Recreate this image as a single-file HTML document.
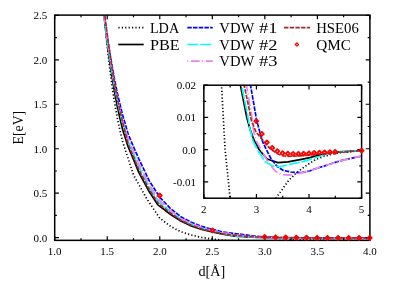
<!DOCTYPE html><html><head><meta charset="utf-8"><style>html,body{margin:0;padding:0;background:#fff}svg{display:block;will-change:transform}text{font-family:"Liberation Serif",serif;fill:#000}</style></head><body>
<svg width="396" height="284" viewBox="0 0 396 284">
<defs><clipPath id="cm"><rect x="54.7" y="15.1" width="318.2" height="225.25"/></clipPath><clipPath id="ci"><rect x="203.85" y="85.2" width="160.75000000000003" height="112.99999999999999"/></clipPath></defs>
<rect width="396" height="284" fill="#fff"/>
<g clip-path="url(#cm)">
<polyline points="96.7,-105.5 99.4,-55.7 102.0,-14.9 104.6,18.6 107.2,46.4 109.9,69.6 112.5,89.2 115.1,105.8 117.7,120.0 120.4,132.3 123.0,142.9 128.2,158.7 133.5,175.0 146.6,198.5 159.6,218.0 170.3,226.2 180.8,231.7 191.3,235.0 201.8,237.5 212.3,239.0 222.8,240.2 224.9,240.3 227.0,240.4 229.1,240.5 231.2,240.6 233.3,240.7 235.4,240.8 237.5,240.9 239.6,241.0 241.7,241.2 243.8,241.3 245.9,241.3 248.0,241.3 250.1,241.3 252.2,241.3 254.3,241.3 256.4,241.3 258.5,241.3 260.6,241.3 262.7,241.3 264.8,241.3 266.9,241.2 269.0,241.0 271.1,240.9 273.2,240.8 275.3,240.7 277.4,240.6 279.5,240.5 281.6,240.4 283.7,240.3 285.8,240.2 287.9,240.0 290.0,239.9 292.2,239.7 294.3,239.6 296.4,239.2 298.5,239.1 300.6,239.1 302.7,239.1 304.8,239.0 306.9,239.0 309.0,238.9 311.1,238.9 313.2,238.9 315.3,238.8 317.4,238.8 319.5,238.7 321.6,238.7 323.7,238.7 325.8,238.6 327.9,238.6 330.0,238.5 332.1,238.5 334.2,238.5 336.3,238.5 338.4,238.4 340.5,238.4 342.6,238.4 344.7,238.3 346.8,238.3 348.9,238.3 351.0,238.3 353.1,238.3 355.2,238.2 357.3,238.2 359.4,238.2 361.5,238.2 363.6,238.1 365.7,238.1 367.8,238.1 369.9,238.1" fill="none" stroke="#000" stroke-width="1.7" stroke-dasharray="1.2,2.2" stroke-linejoin="round"/>
<polyline points="96.3,-71.1 99.0,-37.7 101.6,-8.4 104.2,17.2 106.8,39.7 109.5,59.5 112.1,77.0 114.7,92.5 117.3,106.3 120.0,118.5 122.6,129.4 128.2,146.9 133.5,159.3 138.8,172.4 149.3,191.8 157.6,204.6 170.3,214.2 180.8,221.0 191.3,226.0 201.8,229.5 212.3,232.0 222.8,234.2 233.3,236.0 235.4,236.1 237.5,236.3 239.6,236.4 241.7,236.5 243.8,236.7 245.9,236.8 248.0,236.9 250.1,237.0 252.2,237.1 254.3,237.2 256.4,237.3 258.5,237.4 260.6,237.4 262.7,237.5 264.8,237.6 266.9,237.6 269.0,237.7 271.1,237.7 273.2,237.7 275.3,237.8 277.4,237.8 279.5,237.9 281.6,237.9 283.7,237.9 285.8,238.0 287.9,238.0 290.0,238.0 292.2,238.0 294.3,238.0 296.4,238.0 298.5,238.0 300.6,238.0 302.7,238.0 304.8,238.0 306.9,238.1 309.0,238.1 311.1,238.1 313.2,238.1 315.3,238.0 317.4,238.0 319.5,238.0 321.6,238.0 323.7,238.0 325.8,238.0 327.9,238.0 330.0,238.0 332.1,238.0 334.2,238.0 336.3,238.0 338.4,238.0 340.5,238.0 342.6,238.0 344.7,238.0 346.8,238.0 348.9,238.0 351.0,238.0 353.1,238.0 355.2,238.0 357.3,238.0 359.4,238.0 361.5,237.9 363.6,237.9 365.7,237.9 367.8,237.9 369.9,237.9" fill="none" stroke="#000" stroke-width="1.7" stroke-linejoin="round"/>
<polyline points="96.1,-54.5 98.8,-29.4 101.4,-6.6 104.0,14.0 106.6,32.7 109.3,49.7 111.9,65.1 114.5,79.2 117.1,92.0 119.8,103.6 122.4,114.3 128.2,134.3 133.5,146.8 138.8,158.8 149.3,180.9 159.8,197.3 170.3,208.3 180.8,216.8 191.3,222.2 201.8,226.4 212.3,229.4 222.8,232.0 254.3,236.0 256.4,236.2 258.5,236.4 260.6,236.5 262.7,236.7 264.8,236.9 266.9,237.0 269.0,237.1 271.1,237.2 273.2,237.3 275.3,237.4 277.4,237.5 279.5,237.5 281.6,237.6 283.7,237.7 285.8,237.7 287.9,237.8 290.0,237.8 292.2,237.9 294.3,238.0 296.4,238.0 298.5,238.0 300.6,238.1 302.7,238.1 304.8,238.1 306.9,238.2 309.0,238.2 311.1,238.2 313.2,238.2 315.3,238.2 317.4,238.3 319.5,238.3 321.6,238.3 323.7,238.3 325.8,238.3 327.9,238.3 330.0,238.3 332.1,238.3 334.2,238.3 336.3,238.3 338.4,238.3 340.5,238.3 342.6,238.3 344.7,238.3 346.8,238.3 348.9,238.3 351.0,238.3 353.1,238.3 355.2,238.3 357.3,238.3 359.4,238.3 361.5,238.3 363.6,238.3 365.7,238.3 367.8,238.3 369.9,238.3" fill="none" stroke="#0000ff" stroke-width="1.7" stroke-dasharray="4.5,1.2" stroke-linejoin="round"/>
<polyline points="96.2,-64.1 98.9,-34.2 101.5,-7.7 104.1,15.9 106.7,36.8 109.4,55.4 112.0,72.0 114.6,86.9 117.3,100.3 119.9,112.3 122.5,123.1 128.2,141.6 133.5,154.1 138.8,166.7 149.3,187.2 158.5,201.5 170.3,211.7 180.8,219.2 191.3,224.4 201.8,228.2 212.3,230.9 222.8,233.3 235.4,235.9 237.5,236.1 239.6,236.2 241.7,236.4 243.8,236.5 245.9,236.7 248.0,236.8 250.1,237.0 252.2,237.1 254.3,237.3 256.4,237.4 258.5,237.5 260.6,237.5 262.7,237.6 264.8,237.6 266.9,237.7 269.0,237.8 271.1,237.8 273.2,237.8 275.3,237.9 277.4,237.9 279.5,238.0 281.6,238.0 283.7,238.0 285.8,238.1 287.9,238.1 290.0,238.1 292.2,238.1 294.3,238.1 296.4,238.1 298.5,238.2 300.6,238.2 302.7,238.2 304.8,238.2 306.9,238.2 309.0,238.2 311.1,238.2 313.2,238.2 315.3,238.2 317.4,238.2 319.5,238.1 321.6,238.1 323.7,238.1 325.8,238.1 327.9,238.1 330.0,238.1 332.1,238.1 334.2,238.1 336.3,238.1 338.4,238.1 340.5,238.1 342.6,238.1 344.7,238.1 346.8,238.1 348.9,238.1 351.0,238.0 353.1,238.0 355.2,238.0 357.3,238.0 359.4,238.0 361.5,238.0 363.6,238.0 365.7,238.0 367.8,238.0 369.9,238.0" fill="none" stroke="#00ffff" stroke-width="1.7" stroke-dasharray="10.9,2" stroke-linejoin="round"/>
<polyline points="96.2,-60.7 98.8,-32.4 101.5,-7.3 104.1,15.2 106.7,35.3 109.3,53.3 112.0,69.5 114.6,84.1 117.2,97.3 119.8,109.1 122.5,119.9 128.2,139.0 133.5,151.4 138.8,163.8 149.3,184.9 159.0,200.0 170.3,210.5 180.8,218.4 191.3,223.6 201.8,227.5 212.3,230.4 222.8,232.8 245.9,236.0 248.0,236.2 250.1,236.3 252.2,236.5 254.3,236.7 256.4,236.9 258.5,237.1 260.6,237.3 262.7,237.4 264.8,237.5 266.9,237.5 269.0,237.6 271.1,237.6 273.2,237.7 275.3,237.7 277.4,237.8 279.5,237.8 281.6,237.9 283.7,237.9 285.8,238.0 287.9,238.0 290.0,238.1 292.2,238.1 294.3,238.2 296.4,238.2 298.5,238.2 300.6,238.3 302.7,238.3 304.8,238.3 306.9,238.3 309.0,238.3 311.1,238.4 313.2,238.4 315.3,238.4 317.4,238.4 319.5,238.4 321.6,238.4 323.7,238.4 325.8,238.4 327.9,238.4 330.0,238.4 332.1,238.4 334.2,238.4 336.3,238.4 338.4,238.4 340.5,238.4 342.6,238.4 344.7,238.4 346.8,238.4 348.9,238.4 351.0,238.4 353.1,238.3 355.2,238.3 357.3,238.3 359.4,238.3 361.5,238.3 363.6,238.3 365.7,238.3 367.8,238.3 369.9,238.3" fill="none" stroke="#ee82ee" stroke-width="1.7" stroke-dasharray="1,2.5,8.8,2.5" stroke-linejoin="round"/>
<polyline points="96.3,-74.9 99.0,-43.3 101.6,-15.3 104.2,9.4 106.8,31.5 109.5,51.1 112.1,68.6 114.7,84.2 117.3,98.2 120.0,110.7 122.6,122.0 128.2,144.4 133.5,156.8 138.8,169.7 149.3,189.6 158.0,203.1 170.3,213.0 180.8,220.2 191.3,225.2 201.8,228.9 212.3,231.5 222.8,233.8 241.7,236.0 243.8,236.2 245.9,236.3 248.0,236.4 250.1,236.6 252.2,236.7 254.3,236.9 256.4,237.0 258.5,237.0 260.6,237.1 262.7,237.2 264.8,237.2 266.9,237.3 269.0,237.3 271.1,237.3 273.2,237.4 275.3,237.4 277.4,237.4 279.5,237.5 281.6,237.5 283.7,237.5 285.8,237.6 287.9,237.6 290.0,237.6 292.2,237.7 294.3,237.7 296.4,237.7 298.5,237.7 300.6,237.8 302.7,237.8 304.8,237.8 306.9,237.8 309.0,237.8 311.1,237.8 313.2,237.8 315.3,237.9 317.4,237.9 319.5,237.9 321.6,237.9 323.7,237.9 325.8,237.9 327.9,237.9 330.0,237.9 332.1,237.9 334.2,237.9 336.3,237.9 338.4,237.9 340.5,237.9 342.6,237.9 344.7,237.9 346.8,237.9 348.9,237.9 351.0,237.9 353.1,237.9 355.2,237.9 357.3,237.9 359.4,237.9 361.5,237.9 363.6,237.9 365.7,237.9 367.8,237.9 369.9,237.8" fill="none" stroke="#a52a2a" stroke-width="1.7" stroke-dasharray="4.4,1.3" stroke-linejoin="round"/>
</g>
<rect x="54.7" y="15.1" width="315.2" height="225.25" fill="none" stroke="#000" stroke-width="1.5"/>
<path d="M54.70 240.35v-4.2M54.70 15.1v4.2M80.97 240.35v-2.2M80.97 15.1v2.2M107.23 240.35v-4.2M107.23 15.1v4.2M133.50 240.35v-2.2M133.50 15.1v2.2M159.77 240.35v-4.2M159.77 15.1v4.2M186.03 240.35v-2.2M186.03 15.1v2.2M212.30 240.35v-4.2M212.30 15.1v4.2M238.57 240.35v-2.2M238.57 15.1v2.2M264.83 240.35v-4.2M264.83 15.1v4.2M291.10 240.35v-2.2M291.10 15.1v2.2M317.37 240.35v-4.2M317.37 15.1v4.2M343.63 240.35v-2.2M343.63 15.1v2.2M369.90 240.35v-4.2M369.90 15.1v4.2M54.7 237.70h4.2M369.9 237.70h-4.2M54.7 215.46h2.2M369.9 215.46h-2.2M54.7 193.22h4.2M369.9 193.22h-4.2M54.7 170.99h2.2M369.9 170.99h-2.2M54.7 148.75h4.2M369.9 148.75h-4.2M54.7 126.51h2.2M369.9 126.51h-2.2M54.7 104.27h4.2M369.9 104.27h-4.2M54.7 82.04h2.2M369.9 82.04h-2.2M54.7 59.80h4.2M369.9 59.80h-4.2M54.7 37.56h2.2M369.9 37.56h-2.2M54.7 15.32h4.2M369.9 15.32h-4.2" stroke="#000" stroke-width="1.2" fill="none"/>
<path d="M159.7 193.5L161.7 195.5L159.7 197.5L157.7 195.5Z" fill="none" stroke="#ff0000" stroke-width="1.8" stroke-linejoin="round"/>
<path d="M212.4 228.4L214.4 230.4L212.4 232.4L210.4 230.4Z" fill="none" stroke="#ff0000" stroke-width="1.8" stroke-linejoin="round"/>
<path d="M264.6 234.9L266.6 236.9L264.6 238.9L262.6 236.9Z" fill="none" stroke="#ff0000" stroke-width="1.8" stroke-linejoin="round"/>
<path d="M275.6 235.3L277.6 237.3L275.6 239.3L273.6 237.3Z" fill="none" stroke="#ff0000" stroke-width="1.8" stroke-linejoin="round"/>
<path d="M285.7 235.5L287.7 237.5L285.7 239.5L283.7 237.5Z" fill="none" stroke="#ff0000" stroke-width="1.8" stroke-linejoin="round"/>
<path d="M296.3 235.6L298.3 237.6L296.3 239.6L294.3 237.6Z" fill="none" stroke="#ff0000" stroke-width="1.8" stroke-linejoin="round"/>
<path d="M306.5 235.7L308.5 237.7L306.5 239.7L304.5 237.7Z" fill="none" stroke="#ff0000" stroke-width="1.8" stroke-linejoin="round"/>
<path d="M317.1 235.8L319.1 237.8L317.1 239.8L315.1 237.8Z" fill="none" stroke="#ff0000" stroke-width="1.8" stroke-linejoin="round"/>
<path d="M327.5 235.8L329.5 237.8L327.5 239.8L325.5 237.8Z" fill="none" stroke="#ff0000" stroke-width="1.8" stroke-linejoin="round"/>
<path d="M338.1 235.8L340.1 237.8L338.1 239.8L336.1 237.8Z" fill="none" stroke="#ff0000" stroke-width="1.8" stroke-linejoin="round"/>
<path d="M348.7 235.8L350.7 237.8L348.7 239.8L346.7 237.8Z" fill="none" stroke="#ff0000" stroke-width="1.8" stroke-linejoin="round"/>
<path d="M359.1 235.8L361.1 237.8L359.1 239.8L357.1 237.8Z" fill="none" stroke="#ff0000" stroke-width="1.8" stroke-linejoin="round"/>
<path d="M369.7 235.8L371.7 237.8L369.7 239.8L367.7 237.8Z" fill="none" stroke="#ff0000" stroke-width="1.8" stroke-linejoin="round"/>
<text x="54.7" y="255" font-size="11" text-anchor="middle">1.0</text>
<text x="107.2" y="255" font-size="11" text-anchor="middle">1.5</text>
<text x="159.8" y="255" font-size="11" text-anchor="middle">2.0</text>
<text x="212.3" y="255" font-size="11" text-anchor="middle">2.5</text>
<text x="264.8" y="255" font-size="11" text-anchor="middle">3.0</text>
<text x="317.4" y="255" font-size="11" text-anchor="middle">3.5</text>
<text x="369.9" y="255" font-size="11" text-anchor="middle">4.0</text>
<text x="47.2" y="241.6" font-size="11" text-anchor="end">0.0</text>
<text x="47.2" y="197.1" font-size="11" text-anchor="end">0.5</text>
<text x="47.2" y="152.7" font-size="11" text-anchor="end">1.0</text>
<text x="47.2" y="108.2" font-size="11" text-anchor="end">1.5</text>
<text x="47.2" y="63.7" font-size="11" text-anchor="end">2.0</text>
<text x="47.2" y="19.2" font-size="11" text-anchor="end">2.5</text>
<text x="198.4" y="276" font-size="14.8" textLength="26.8" lengthAdjust="spacingAndGlyphs">d[Å]</text>
<text transform="translate(22.9,144.4) rotate(-90)" font-size="14.8" textLength="33.6" lengthAdjust="spacingAndGlyphs">E[eV]</text>
<rect x="203.85" y="85.2" width="157.75000000000003" height="112.99999999999999" fill="#fff"/>
<g clip-path="url(#ci)">
<polyline points="219.5,50.0 221.5,85.2 225.1,150.0 228.3,180.0 230.1,198.2 231.0,210.0" fill="none" stroke="#000" stroke-width="1.7" stroke-dasharray="1.2,2.2" stroke-linejoin="round"/>
<polyline points="272.0,204.0 276.6,197.2 282.3,189.4 288.6,180.5 295.0,174.2 301.3,169.1 307.7,164.6 315.4,159.7 324.3,156.2 333.1,154.0 340.0,152.7 361.6,150.6" fill="none" stroke="#000" stroke-width="1.7" stroke-dasharray="1.2,2.2" stroke-linejoin="round"/>
<polyline points="233.4,50.0 240.4,85.2 244.9,108.0 246.9,118.0 250.3,130.0 254.0,140.0 259.4,150.0 267.1,159.0 277.9,162.6 288.0,161.8 300.0,159.6 310.0,157.6 315.4,156.0 328.0,153.7 335.0,152.2 361.6,150.6" fill="none" stroke="#000" stroke-width="1.7" stroke-linejoin="round"/>
<polyline points="245.8,50.0 250.5,85.2 256.6,120.0 259.8,132.0 262.7,141.9 266.0,148.9 271.2,159.0 277.3,166.6 283.0,170.3 290.6,172.0 297.0,172.6 302.7,172.4 310.0,170.8 315.4,168.8 328.0,164.8 340.0,160.8 361.6,156.1" fill="none" stroke="#0000ff" stroke-width="1.7" stroke-dasharray="4.5,1.2" stroke-linejoin="round"/>
<polyline points="235.5,50.0 241.5,85.2 246.2,108.0 248.0,117.0 249.9,128.7 253.2,141.4 258.2,151.0 265.0,161.6 272.6,166.0 280.5,166.6 290.6,164.1 302.7,161.6 315.4,157.8 324.3,155.0 335.0,152.0 361.6,150.6" fill="none" stroke="#00ffff" stroke-width="1.7" stroke-dasharray="10.9,2" stroke-linejoin="round"/>
<polyline points="240.4,50.0 246.5,85.2 250.4,108.0 252.3,120.0 253.4,130.0 255.7,140.0 261.4,150.2 268.5,162.8 275.4,171.3 281.7,174.6 288.0,175.2 293.0,174.8 300.0,173.2 302.7,172.4 310.0,170.8 315.4,168.8 328.0,164.8 340.0,160.8 361.6,156.1" fill="none" stroke="#ee82ee" stroke-width="1.7" stroke-dasharray="1,2.5,8.8,2.5" stroke-linejoin="round"/>
<polyline points="238.0,50.0 244.1,85.2 249.0,108.0 251.2,120.0 256.0,132.0 263.7,141.3 268.0,146.5 273.0,150.8 278.0,154.0 283.5,155.9 288.5,156.3 300.0,155.9 315.0,154.5 330.0,153.0 340.0,152.2 361.6,150.6" fill="none" stroke="#a52a2a" stroke-width="1.7" stroke-dasharray="4.4,1.3" stroke-linejoin="round"/>
</g>
<rect x="203.85" y="85.2" width="157.75000000000003" height="112.99999999999999" fill="none" stroke="#000" stroke-width="1.5"/>
<path d="M203.85 198.2v-4.3M203.85 85.2v4.3M230.14 198.2v-2.35M230.14 85.2v2.35M256.43 198.2v-4.3M256.43 85.2v4.3M282.73 198.2v-2.35M282.73 85.2v2.35M309.02 198.2v-4.3M309.02 85.2v4.3M335.31 198.2v-2.35M335.31 85.2v2.35M361.60 198.2v-4.3M361.60 85.2v4.3M203.85 198.01h2.35M361.6 198.01h-2.35M203.85 181.90h4.3M361.6 181.90h-4.3M203.85 165.78h2.35M361.6 165.78h-2.35M203.85 149.67h4.3M361.6 149.67h-4.3M203.85 133.55h2.35M361.6 133.55h-2.35M203.85 117.44h4.3M361.6 117.44h-4.3M203.85 101.32h2.35M361.6 101.32h-2.35M203.85 85.21h4.3M361.6 85.21h-4.3" stroke="#000" stroke-width="1.2" fill="none"/>
<path d="M256.3 119.1L258.3 121.1L256.3 123.1L254.3 121.1Z" fill="none" stroke="#ff0000" stroke-width="1.8" stroke-linejoin="round"/>
<path d="M261.8 131.8L263.8 133.8L261.8 135.8L259.8 133.8Z" fill="none" stroke="#ff0000" stroke-width="1.8" stroke-linejoin="round"/>
<path d="M266.9 140.4L268.9 142.4L266.9 144.4L264.9 142.4Z" fill="none" stroke="#ff0000" stroke-width="1.8" stroke-linejoin="round"/>
<path d="M272.2 145.8L274.2 147.8L272.2 149.8L270.2 147.8Z" fill="none" stroke="#ff0000" stroke-width="1.8" stroke-linejoin="round"/>
<path d="M277.3 149.2L279.3 151.2L277.3 153.2L275.3 151.2Z" fill="none" stroke="#ff0000" stroke-width="1.8" stroke-linejoin="round"/>
<path d="M282.6 151.1L284.6 153.1L282.6 155.1L280.6 153.1Z" fill="none" stroke="#ff0000" stroke-width="1.8" stroke-linejoin="round"/>
<path d="M287.8 151.7L289.8 153.7L287.8 155.7L285.8 153.7Z" fill="none" stroke="#ff0000" stroke-width="1.8" stroke-linejoin="round"/>
<path d="M293.1 151.9L295.1 153.9L293.1 155.9L291.1 153.9Z" fill="none" stroke="#ff0000" stroke-width="1.8" stroke-linejoin="round"/>
<path d="M298.4 151.9L300.4 153.9L298.4 155.9L296.4 153.9Z" fill="none" stroke="#ff0000" stroke-width="1.8" stroke-linejoin="round"/>
<path d="M303.6 151.6L305.6 153.6L303.6 155.6L301.6 153.6Z" fill="none" stroke="#ff0000" stroke-width="1.8" stroke-linejoin="round"/>
<path d="M308.9 151.3L310.9 153.3L308.9 155.3L306.9 153.3Z" fill="none" stroke="#ff0000" stroke-width="1.8" stroke-linejoin="round"/>
<path d="M314.1 151.0L316.1 153.0L314.1 155.0L312.1 153.0Z" fill="none" stroke="#ff0000" stroke-width="1.8" stroke-linejoin="round"/>
<path d="M319.4 150.7L321.4 152.7L319.4 154.7L317.4 152.7Z" fill="none" stroke="#ff0000" stroke-width="1.8" stroke-linejoin="round"/>
<path d="M324.6 150.5L326.6 152.5L324.6 154.5L322.6 152.5Z" fill="none" stroke="#ff0000" stroke-width="1.8" stroke-linejoin="round"/>
<path d="M329.9 150.2L331.9 152.2L329.9 154.2L327.9 152.2Z" fill="none" stroke="#ff0000" stroke-width="1.8" stroke-linejoin="round"/>
<path d="M335.1 149.8L337.1 151.8L335.1 153.8L333.1 151.8Z" fill="none" stroke="#ff0000" stroke-width="1.8" stroke-linejoin="round"/>
<path d="M361.6 148.6L363.6 150.6L361.6 152.6L359.6 150.6Z" fill="none" stroke="#ff0000" stroke-width="1.8" stroke-linejoin="round"/>
<text x="203.8" y="212.7" font-size="11" text-anchor="middle">2</text>
<text x="256.4" y="212.7" font-size="11" text-anchor="middle">3</text>
<text x="309.0" y="212.7" font-size="11" text-anchor="middle">4</text>
<text x="361.6" y="212.7" font-size="11" text-anchor="middle">5</text>
<text x="196" y="89.1" font-size="11" text-anchor="end">0.02</text>
<text x="196" y="121.3" font-size="11" text-anchor="end">0.01</text>
<text x="196" y="153.6" font-size="11" text-anchor="end">0.0</text>
<text x="196" y="185.8" font-size="11" text-anchor="end">-0.01</text>
<path d="M118.4 27.7H143.5" stroke="#000" stroke-width="1.7" stroke-dasharray="1.2,2.2" fill="none"/>
<path d="M118.3 44.5H143.7" stroke="#000" stroke-width="1.7" fill="none"/>
<path d="M187.3 27.7H212.8" stroke="#0000ff" stroke-width="1.7" stroke-dasharray="4.5,1.2" fill="none"/>
<path d="M187.3 44.5H212.8" stroke="#00ffff" stroke-width="1.7" stroke-dasharray="10.9,2" fill="none"/>
<path d="M187.3 61.2H212.8" stroke="#ee82ee" stroke-width="1.7" stroke-dasharray="1,2.5,8.8,2.5" fill="none"/>
<path d="M284.0 27.7H310.1" stroke="#a52a2a" stroke-width="1.7" stroke-dasharray="4.4,1.3" fill="none"/>
<path d="M296.9 42.9L298.5 44.5L296.9 46.1L295.3 44.5Z" fill="none" stroke="#ff0000" stroke-width="1.3" stroke-linejoin="round"/>
<text x="149.9" y="32.7" font-size="13.8" textLength="29.3" lengthAdjust="spacingAndGlyphs">LDA</text>
<text x="149.9" y="49.5" font-size="13.8" textLength="29.7" lengthAdjust="spacingAndGlyphs">PBE</text>
<text x="219.3" y="32.7" font-size="13.8" textLength="35" lengthAdjust="spacingAndGlyphs">VDW</text>
<text x="259.0" y="32.7" font-size="13.8" textLength="18.5" lengthAdjust="spacingAndGlyphs">#1</text>
<text x="219.3" y="49.5" font-size="13.8" textLength="35" lengthAdjust="spacingAndGlyphs">VDW</text>
<text x="259.0" y="49.5" font-size="13.8" textLength="18.5" lengthAdjust="spacingAndGlyphs">#2</text>
<text x="219.3" y="66.30000000000001" font-size="13.8" textLength="35" lengthAdjust="spacingAndGlyphs">VDW</text>
<text x="259.0" y="66.30000000000001" font-size="13.8" textLength="18.5" lengthAdjust="spacingAndGlyphs">#3</text>
<text x="316.2" y="32.7" font-size="13.8" textLength="42.6" lengthAdjust="spacingAndGlyphs">HSE06</text>
<text x="316.2" y="49.5" font-size="13.8" textLength="34.6" lengthAdjust="spacingAndGlyphs">QMC</text>
</svg></body></html>
